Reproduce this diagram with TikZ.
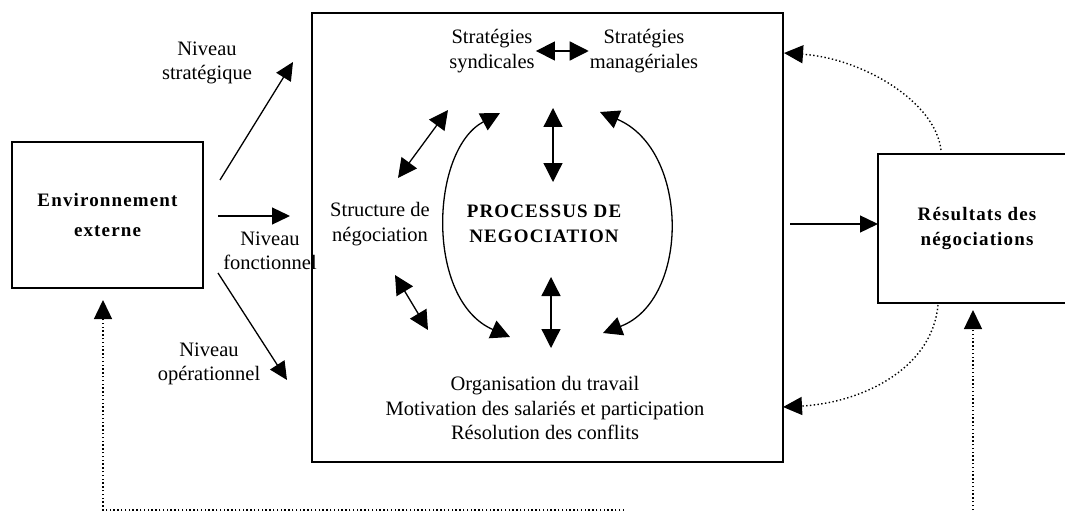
\documentclass[tikz,border=0pt]{standalone}
\usepackage{fontspec}
\setmainfont{Liberation Serif}
\newfontfamily\bfspaced[LetterSpace=6]{Liberation Serif Bold}
\usetikzlibrary{arrows.meta}
\begin{document}
\begin{tikzpicture}[x=1pt,y=-1pt,
  box/.style={draw, line width=1.3pt, inner sep=0pt},
  txt/.style={font=\fontsize{20.5}{24.5}\selectfont, align=center, inner sep=1pt},
  btxt/.style={font=\bfspaced\fontsize{19}{25}\selectfont, align=center},
  conn/.style={line width=1.3pt, -{Triangle[length=18pt,width=17pt]}},
  dconn/.style={line width=1.3pt, {Triangle[length=19pt,width=19pt]}-{Triangle[length=19pt,width=19pt]}},
  dotconn/.style={line width=1.4pt, dash pattern=on 1.4pt off 2.4pt, -{Triangle[length=19pt,width=18pt]}}]
\useasboundingbox (0,0) rectangle (1065,516);
% boxes
\node[box, minimum width=191pt, minimum height=146pt, font=\bfspaced\fontsize{19}{30}\selectfont, align=center] (env) at (107.5,215) {Environnement\\externe};
\node[box, line width=1.5pt, minimum width=471pt, minimum height=449pt] (proc) at (547.5,237.5) {};
\node[box, minimum width=198pt, minimum height=149pt, font=\bfspaced\fontsize{19}{25}\selectfont, align=center] (res) at (977,228.5) {Résultats des\\négociations};
% labels outside
\node[txt] (niv1) at (207,63) {Niveau\\stratégique};
\node[txt] (niv2) at (270,251) {Niveau\\fonctionnel};
\node[txt] (niv3) at (209,364) {Niveau\\opérationnel};
% inside texts
\node[txt] (ss) at (492,51) {Stratégies\\syndicales};
\node[txt] (sm) at (644,51) {Stratégies\\managériales};
\node[txt] (struct) at (380,224) {Structure de\\négociation};
\node[btxt] (pn) at (544,224) {PROCESSUS DE\\NEGOCIATION};
\node[txt] (org) at (545,408) {Organisation du travail\\Motivation des salariés et participation\\Résolution des conflits};
% coordinates
\coordinate (a1s) at (220,180); \coordinate (a1e) at (293,62);
\coordinate (a2s) at (218,216); \coordinate (a2e) at (290,216);
\coordinate (a3s) at (218,273); \coordinate (a3e) at (287,380);
\coordinate (ul1) at (398,178); \coordinate (ul2) at (448,110);
\coordinate (ll1) at (395,275); \coordinate (ll2) at (428,330);
\coordinate (la1) at (500,113); \coordinate (la2) at (510,337);
\coordinate (ra1) at (600,112); \coordinate (ra2) at (603,333);
\coordinate (tv1) at (553,108); \coordinate (tv2) at (553,182);
\coordinate (bv1) at (551,277); \coordinate (bv2) at (551,348);
\coordinate (pr) at (790,224); \coordinate (rs) at (878,224);
\coordinate (d1s) at (941,150); \coordinate (d1e) at (784,53);
\coordinate (d2s) at (938,305); \coordinate (d2e) at (783,407);
\coordinate (bl) at (103,510); \coordinate (blend) at (624,510); \coordinate (envin) at (103,300);
\coordinate (br) at (973,510); \coordinate (resin) at (973,310);
% left arrows
\draw[conn] (a1s) -- (a1e);
\draw[conn] (a2s) -- (a2e);
\draw[conn] (a3s) -- (a3e);
% inner arrows
\draw[dconn] (ss.east) -- (sm.west);
\draw[dconn] (ul1) -- (ul2);
\draw[dconn] (ll1) -- (ll2);
\draw[dconn] (la1) .. controls (430,150) and (425,300) .. (la2);
\draw[dconn] (ra1) .. controls (690,150) and (690,300) .. (ra2);
\draw[dconn] (tv1) -- (tv2);
\draw[dconn] (bv1) -- (bv2);
% to results
\draw[conn] (pr) -- (rs);
% dotted feedback
\draw[dotconn] (d1s) .. controls (935,100) and (860,58) .. (d1e);
\draw[dotconn] (d2s) .. controls (932,370) and (860,403) .. (d2e);
\draw[dotconn] (blend) -- (bl) -- (envin);
\draw[dotconn] (br) -- (resin);
\end{tikzpicture}
\end{document}
